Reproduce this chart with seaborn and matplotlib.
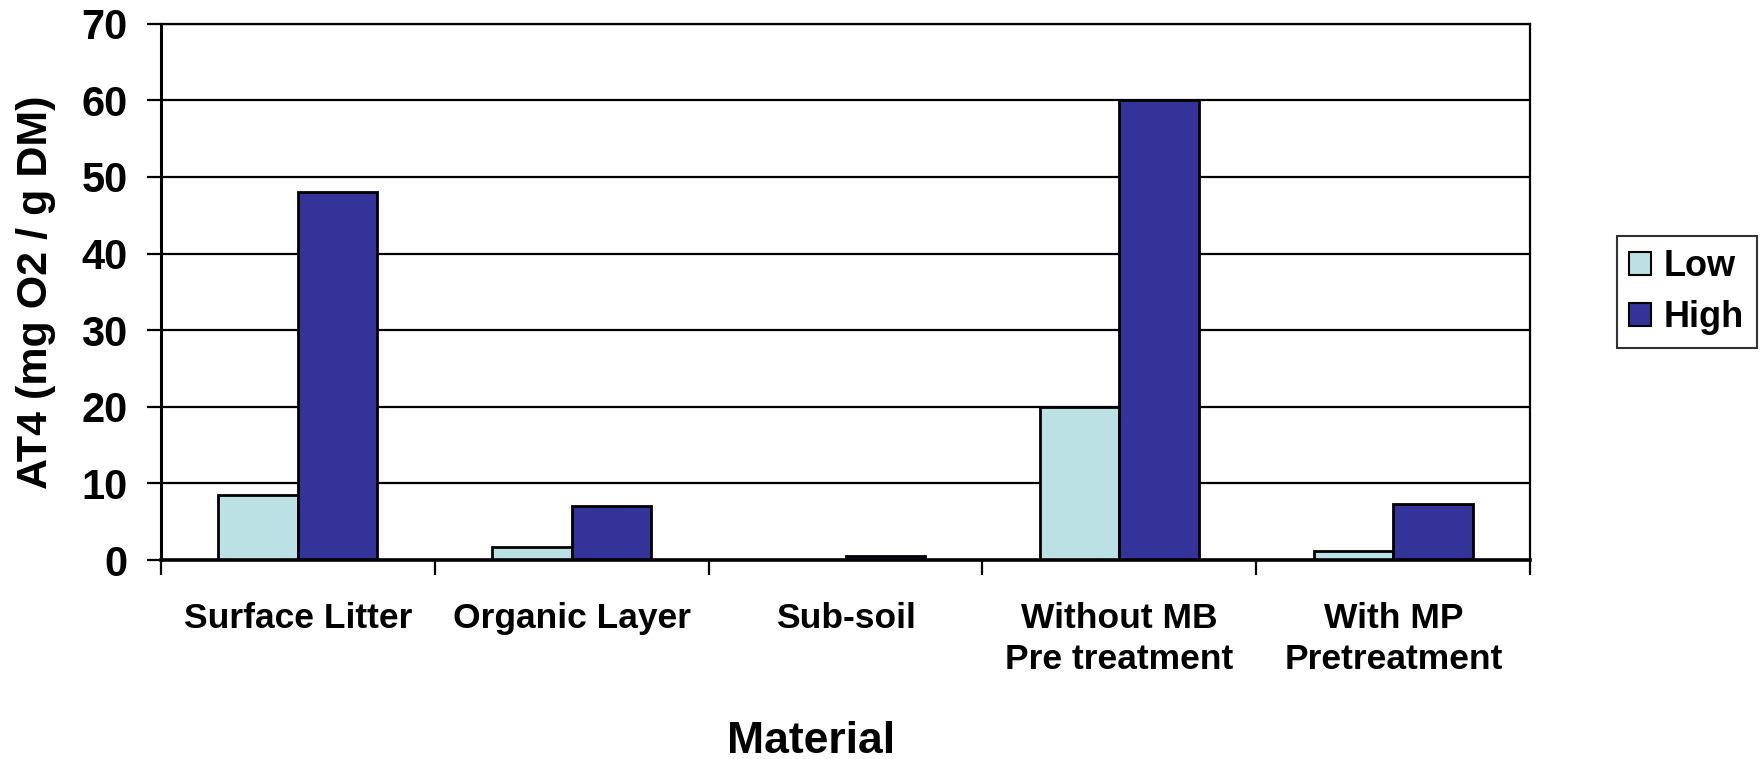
import matplotlib
matplotlib.use("Agg")
import matplotlib.pyplot as plt
import seaborn as sns
import pandas as pd
from matplotlib.patches import Patch

categories = ["Surface Litter", "Organic Layer", "Sub-soil",
              "Without MB\nPre treatment", "With MP\nPretreatment"]
low_values = [8.5, 1.75, 0.0, 20.0, 1.15]
high_values = [48.0, 7.05, 0.6, 60.0, 7.35]
series_names = ["Low", "High"]
y_ticks = [0, 10, 20, 30, 40, 50, 60, 70]

colors = {"Low": "#BCE1E4", "High": "#333399"}

df = pd.DataFrame({
    "Material": categories * 2,
    "Level": [series_names[0]] * len(categories) + [series_names[1]] * len(categories),
    "AT4": low_values + high_values,
})

sns.set_style("white")
plt.rcParams["font.family"] = ["Liberation Sans", "DejaVu Sans"]
plt.rcParams["font.weight"] = "bold"
plt.rcParams["text.color"] = "black"
plt.rcParams["axes.labelcolor"] = "black"
plt.rcParams["xtick.color"] = "black"
plt.rcParams["ytick.color"] = "black"

fig = plt.figure(figsize=(17.63, 7.59), dpi=100)
ax = fig.add_axes([0.0912, 0.262, 0.868 - 0.0912, 0.969 - 0.262])

# horizontal gridlines behind the bars
for v in y_ticks:
    ax.axhline(v, color="black", lw=1.6, zorder=0)

sns.barplot(data=df, x="Material", y="AT4", hue="Level", order=categories,
            hue_order=series_names, palette=colors, width=0.58,
            edgecolor="black", linewidth=2.0, saturation=1, ax=ax,
            legend=False, zorder=2)

ax.set_xlim(-0.5, len(categories) - 0.5)
ax.set_ylim(0, 70)
ax.set_yticks(y_ticks)
ax.set_yticklabels([str(v) for v in y_ticks], fontsize=30, fontweight="bold")

# major x ticks mark the category boundaries; labels sit on minor ticks at centers
ax.set_xticks([i - 0.5 for i in range(len(categories) + 1)])
ax.set_xticklabels([])
ax.set_xticks(range(len(categories)), minor=True)
ax.set_xticklabels(categories, minor=True, fontsize=25.5, fontweight="bold",
                   linespacing=1.3)
ax.tick_params(axis="x", which="major", direction="out", length=11, width=1.6,
               color="black", bottom=True)
ax.tick_params(axis="x", which="minor", length=0, pad=30, bottom=True)
ax.tick_params(axis="y", direction="out", length=10, width=1.6, color="black",
               pad=14, left=True)

for side in ["left", "bottom", "right", "top"]:
    ax.spines[side].set_visible(True)
    ax.spines[side].set_color("black")
ax.spines["left"].set_linewidth(2.2)
ax.spines["bottom"].set_linewidth(2.6)
ax.spines["right"].set_linewidth(1.6)
ax.spines["top"].set_linewidth(1.6)

ax.set_xlabel("Material", fontsize=32, fontweight="bold")
ax.xaxis.set_label_coords(0.475, -0.30)
ax.set_ylabel("AT4 (mg O2 / g DM)", fontsize=31, fontweight="bold", labelpad=18)

handles = [Patch(facecolor=colors[s], edgecolor="black", linewidth=1.5) for s in series_names]
leg = fig.legend(handles, series_names, loc="center left",
                 bbox_to_anchor=(0.917, 0.615), frameon=True, fancybox=False,
                 edgecolor="black", prop={"size": 26, "weight": "bold"},
                 handlelength=0.6, handleheight=0.6, handletextpad=0.35,
                 borderpad=0.35, labelspacing=0.45, borderaxespad=0)
leg.get_frame().set_linewidth(1.5)

fig.savefig("out.png", dpi=100, facecolor="white")
